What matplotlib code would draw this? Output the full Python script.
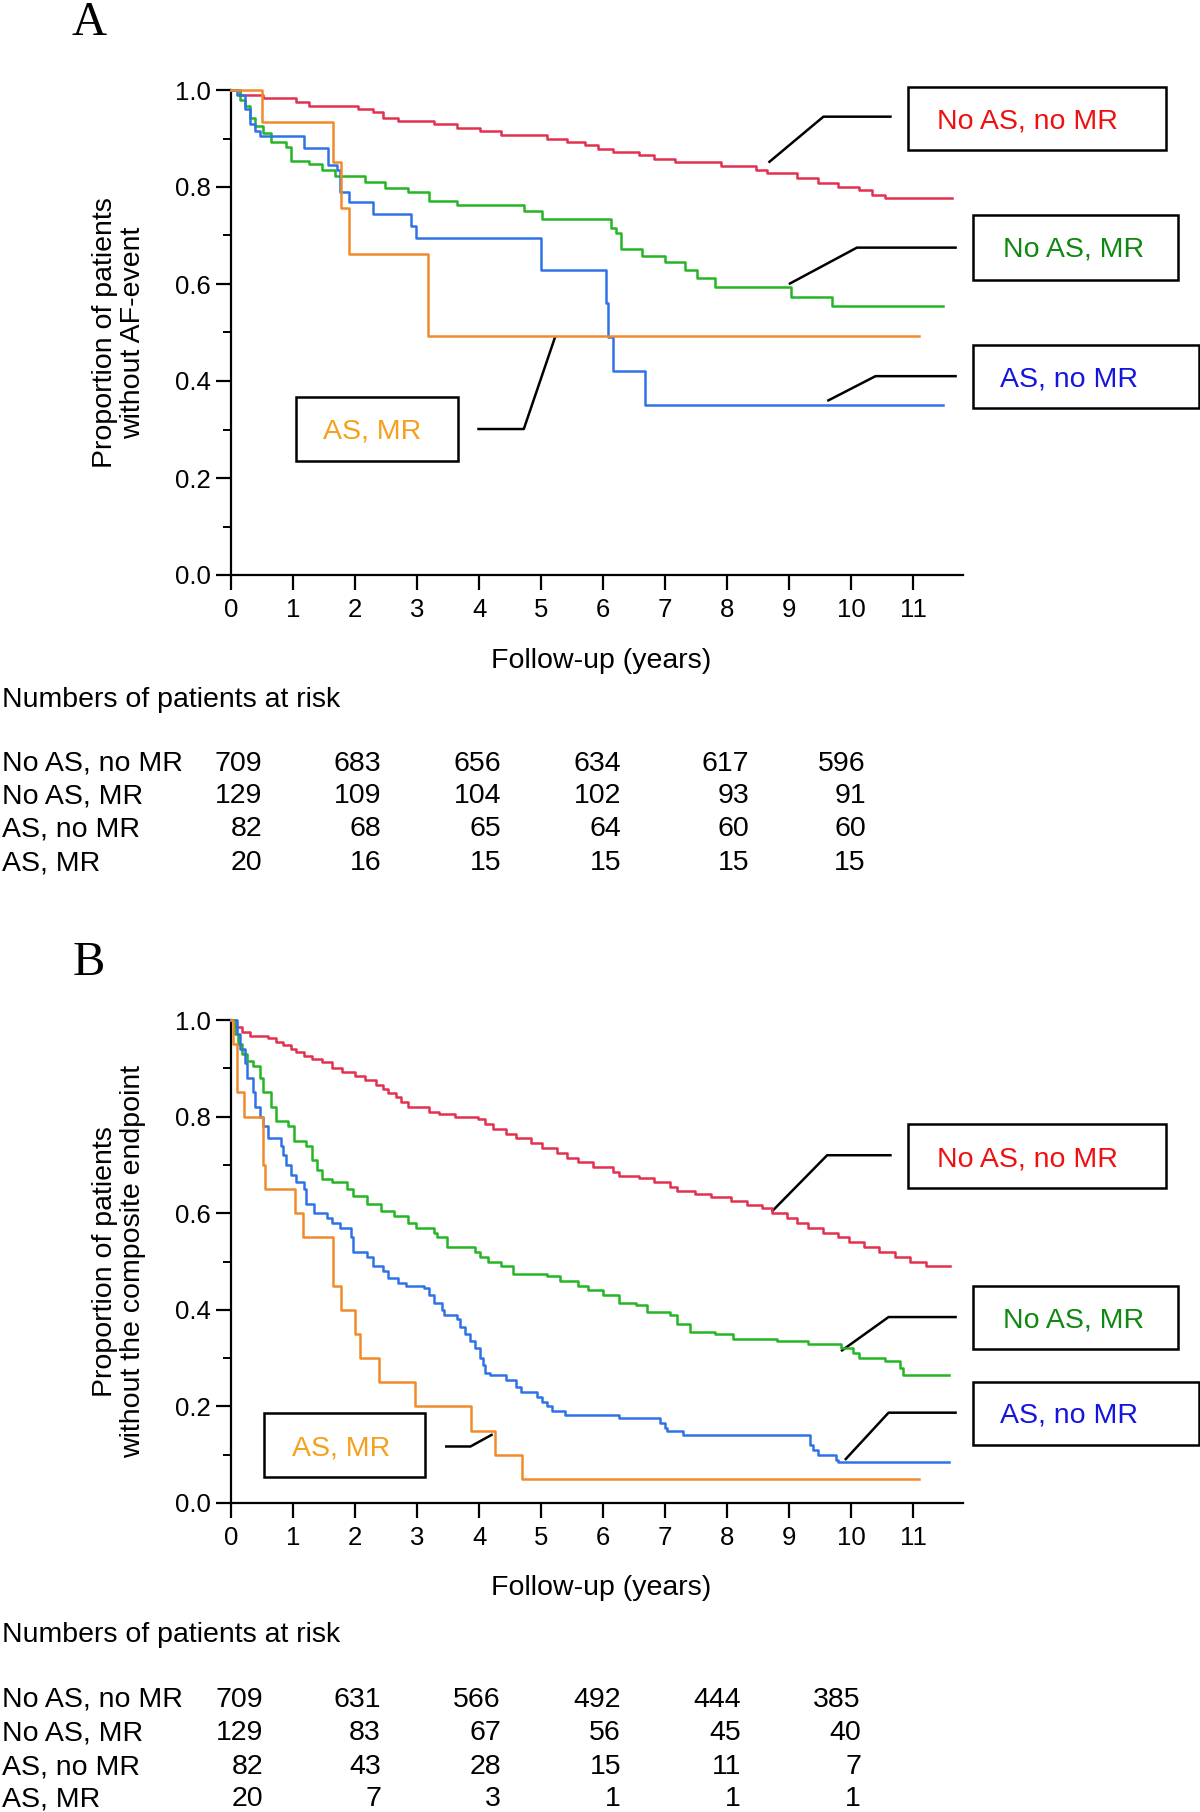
import matplotlib
matplotlib.use("Agg")
import matplotlib.pyplot as plt
from matplotlib.patches import Rectangle
from matplotlib.ticker import MultipleLocator, FormatStrFormatter

plt.rcParams["font.family"] = ["Liberation Sans", "DejaVu Sans"]

GROUPS = ["No AS, no MR", "No AS, MR", "AS, no MR", "AS, MR"]
CURVE_COLORS = ["#e2304f", "#25b525", "#2f72e6", "#f08a2a"]
TEXT_COLORS = ["#ee1111", "#118811", "#1515dd", "#f5a01e"]

# ---- Panel A: freedom from AF event (step times in years, survival after step)
a_nn_t = [0.14, 0.51, 1.05, 1.25, 2.04, 2.29, 2.45, 2.70, 3.28, 3.65, 4.02, 4.35,
          5.09, 5.42, 5.71, 5.92, 6.16, 6.58, 6.82, 7.15, 7.90, 8.47, 8.64, 9.13,
          9.46, 9.79, 10.12, 10.33, 10.54]
a_nn_s = [0.989, 0.983, 0.975, 0.968, 0.961, 0.954, 0.943, 0.936, 0.929, 0.922,
          0.915, 0.907, 0.900, 0.893, 0.886, 0.879, 0.872, 0.865, 0.858, 0.851,
          0.843, 0.836, 0.829, 0.819, 0.808, 0.801, 0.794, 0.783, 0.778]
a_nm_t = [0.14, 0.22, 0.31, 0.39, 0.51, 0.64, 0.88, 0.97, 1.25, 1.46, 1.67, 2.16,
          2.49, 2.86, 3.19, 3.65, 4.72, 5.02, 6.12, 6.20, 6.29, 6.62, 6.99, 7.32,
          7.52, 7.81, 9.03, 9.69]
a_nm_s = [0.979, 0.968, 0.943, 0.925, 0.911, 0.893, 0.883, 0.854, 0.847, 0.836,
          0.822, 0.811, 0.797, 0.790, 0.772, 0.762, 0.751, 0.733, 0.715, 0.705,
          0.673, 0.657, 0.646, 0.629, 0.612, 0.594, 0.573, 0.555]
a_an_t = [0.10, 0.22, 0.31, 0.39, 0.47, 1.17, 1.57, 1.71, 1.75, 1.90, 2.29, 2.90,
          2.99, 4.99, 6.04, 6.08, 6.16, 6.67]
a_an_s = [0.990, 0.960, 0.930, 0.915, 0.905, 0.880, 0.845, 0.835, 0.790, 0.770,
          0.745, 0.720, 0.695, 0.628, 0.560, 0.490, 0.420, 0.350]
a_am_t = [0.50, 1.64, 1.77, 1.90, 3.17]
a_am_s = [0.934, 0.852, 0.757, 0.661, 0.493]
a_end = [11.62, 11.47, 11.47, 11.09]

risk_a = [
    [709, 683, 656, 634, 617, 596],
    [129, 109, 104, 102, 93, 91],
    [82, 68, 65, 64, 60, 60],
    [20, 16, 15, 15, 15, 15],
]

# ---- Panel B: freedom from composite endpoint
b_nn_t = [0.06, 0.18, 0.31, 0.59, 0.72, 0.84, 0.97, 1.05, 1.17, 1.30, 1.46, 1.63,
          1.79, 2.00, 2.16, 2.33, 2.45, 2.53, 2.66, 2.74, 2.86, 3.19, 3.36, 3.61,
          3.98, 4.10, 4.22, 4.43, 4.60, 4.84, 5.01, 5.26, 5.42, 5.59, 5.83, 6.16,
          6.25, 6.58, 6.82, 7.07, 7.19, 7.48, 7.73, 8.06, 8.31, 8.56, 8.72, 8.97,
          9.13, 9.30, 9.55, 9.79, 9.96, 10.21, 10.45, 10.70, 10.95, 11.20]
b_nn_s = [0.985, 0.975, 0.967, 0.962, 0.955, 0.948, 0.940, 0.933, 0.926, 0.920,
          0.913, 0.900, 0.893, 0.884, 0.875, 0.865, 0.858, 0.848, 0.840, 0.830,
          0.820, 0.810, 0.806, 0.800, 0.795, 0.785, 0.775, 0.765, 0.755, 0.745,
          0.735, 0.725, 0.715, 0.705, 0.695, 0.685, 0.678, 0.672, 0.665, 0.655,
          0.645, 0.640, 0.633, 0.625, 0.618, 0.610, 0.600, 0.590, 0.580, 0.570,
          0.560, 0.550, 0.540, 0.530, 0.520, 0.510, 0.500, 0.490]
b_nm_t = [0.06, 0.12, 0.18, 0.26, 0.35, 0.47, 0.51, 0.64, 0.72, 0.92, 1.01, 1.21,
          1.30, 1.38, 1.46, 1.63, 1.87, 1.96, 2.20, 2.41, 2.62, 2.86, 2.99, 3.28,
          3.32, 3.48, 3.94, 4.02, 4.14, 4.35, 4.55, 5.09, 5.30, 5.59, 5.75, 6.00,
          6.25, 6.53, 6.70, 7.07, 7.19, 7.40, 7.81, 8.10, 8.80, 9.30, 9.83, 10.02,
          10.12, 10.54, 10.78, 10.83]
b_nm_s = [0.970, 0.950, 0.930, 0.915, 0.905, 0.880, 0.850, 0.820, 0.790, 0.780,
          0.750, 0.740, 0.710, 0.690, 0.670, 0.665, 0.650, 0.635, 0.620, 0.605,
          0.595, 0.580, 0.570, 0.560, 0.550, 0.530, 0.520, 0.510, 0.500, 0.490,
          0.475, 0.470, 0.460, 0.450, 0.440, 0.430, 0.415, 0.410, 0.395, 0.390,
          0.370, 0.355, 0.350, 0.340, 0.335, 0.330, 0.320, 0.310, 0.300, 0.295,
          0.280, 0.265]
b_an_t = [0.10, 0.14, 0.22, 0.26, 0.35, 0.39, 0.47, 0.51, 0.59, 0.80, 0.84, 0.88,
          0.97, 1.05, 1.17, 1.21, 1.34, 1.54, 1.63, 1.75, 1.93, 1.97, 2.20, 2.29,
          2.45, 2.53, 2.70, 2.82, 3.11, 3.19, 3.28, 3.40, 3.44, 3.65, 3.69, 3.77,
          3.85, 3.94, 4.02, 4.06, 4.10, 4.18, 4.43, 4.60, 4.68, 4.93, 5.01, 5.09,
          5.17, 5.38, 6.25, 6.91, 6.99, 7.03, 7.28, 9.34, 9.38, 9.46, 9.75, 9.79]
b_an_s = [0.970, 0.940, 0.910, 0.880, 0.850, 0.820, 0.800, 0.780, 0.755, 0.740,
          0.720, 0.700, 0.680, 0.665, 0.650, 0.620, 0.600, 0.590, 0.580, 0.570,
          0.550, 0.520, 0.510, 0.490, 0.480, 0.465, 0.455, 0.450, 0.445, 0.430,
          0.415, 0.400, 0.390, 0.380, 0.365, 0.350, 0.335, 0.320, 0.300, 0.285,
          0.270, 0.265, 0.255, 0.240, 0.230, 0.220, 0.210, 0.200, 0.190, 0.183,
          0.175, 0.165, 0.155, 0.150, 0.140, 0.120, 0.110, 0.100, 0.090, 0.085]
b_am_t = [0.04, 0.10, 0.21, 0.51, 0.55, 1.03, 1.16, 1.64, 1.77, 2.00, 2.08, 2.38,
          2.97, 3.87, 4.25, 4.69]
b_am_s = [0.95, 0.85, 0.80, 0.70, 0.65, 0.60, 0.55, 0.45, 0.40, 0.35, 0.30, 0.25,
          0.20, 0.15, 0.10, 0.05]
b_end = [11.59, 11.57, 11.57, 11.09]

risk_b = [
    [709, 631, 566, 492, 444, 385],
    [129, 83, 67, 56, 45, 40],
    [82, 43, 28, 15, 11, 7],
    [20, 7, 3, 1, 1, 1],
]

W, H = 1200, 1812


def fx(px):
    return px / W


def fy(py):
    return 1 - py / H


def draw_panel(ax, curves, ends, ylabel, boxes, leaders, texts):
    for (t, s), end, col in zip(curves, ends, CURVE_COLORS):
        tt = [0.0] + t + [end]
        ss = [1.0] + s + [s[-1]]
        ax.step(tt, ss, where="post", color=col, lw=1.8, clip_on=False, zorder=3)

    ax.set_xlim(0, 11.8)
    ax.set_ylim(0, 1.0)
    for side in ["top", "right"]:
        ax.spines[side].set_visible(False)
    for side in ["left", "bottom"]:
        ax.spines[side].set_linewidth(1.6)
    ax.xaxis.set_major_locator(MultipleLocator(1))
    ax.yaxis.set_major_locator(MultipleLocator(0.2))
    ax.yaxis.set_minor_locator(MultipleLocator(0.1))
    ax.yaxis.set_major_formatter(FormatStrFormatter("%.1f"))
    ax.tick_params(axis="both", which="major", length=10.5, width=1.6,
                   labelsize=18.5, direction="out")
    ax.tick_params(axis="x", pad=6)
    ax.tick_params(axis="y", pad=4)
    ax.tick_params(axis="y", which="minor", length=5.5, width=1.4)
    ax.set_xlabel("Follow-up (years)", fontsize=20.5, va="center")
    ax.xaxis.set_label_coords(0.506, -0.177)
    ax.set_ylabel(ylabel, fontsize=20.5, va="center", linespacing=1.15)
    ax.yaxis.set_label_coords(-0.153, 0.5)

    # annotation boxes with leader lines
    for (x0, x1, y0, y1), (lx, ly), (tx, ty), col, name in zip(
            boxes, leaders, texts, TEXT_COLORS, GROUPS):
        ax.add_patch(Rectangle((x0, y0), x1 - x0, y1 - y0, fill=False,
                               lw=1.8, ec="black", clip_on=False))
        ax.plot(lx, ly, color="black", lw=1.8, clip_on=False)
        ax.text(tx, ty, name, color=col, fontsize=20.5, ha="center",
                va="center_baseline")


def draw_risk(fig, header_y, row_ys, cols, risk):
    fig.text(fx(2), fy(header_y), "Numbers of patients at risk", fontsize=20.5,
             ha="left", va="center_baseline")
    for name, row, y in zip(GROUPS, risk, row_ys):
        fig.text(fx(2), fy(y), name, fontsize=20.5, ha="left",
                 va="center_baseline")
        for val, x in zip(row, cols):
            fig.text(fx(x), fy(y), str(val), fontsize=20.5, ha="right",
                     va="center_baseline")


fig = plt.figure(figsize=(W / 100, H / 100), dpi=100)

ax_a = fig.add_axes([fx(231), fy(575), fx(732), 485 / H])
ax_b = fig.add_axes([fx(231), fy(1503), fx(732), 483 / H])

draw_panel(
    ax_a,
    [(a_nn_t, a_nn_s), (a_nm_t, a_nm_s), (a_an_t, a_an_s), (a_am_t, a_am_s)],
    a_end,
    "Proportion of patients\nwithout AF-event",
    boxes=[(10.91, 15.07, 0.876, 1.007), (11.96, 15.26, 0.609, 0.742),
           (11.96, 15.60, 0.344, 0.475), (1.04, 3.66, 0.236, 0.368)],
    leaders=[([8.68, 9.55, 10.63], [0.852, 0.945, 0.945]),
             ([9.01, 10.09, 11.68], [0.601, 0.675, 0.675]),
             ([9.63, 10.39, 11.68], [0.360, 0.410, 0.410]),
             ([3.99, 4.72, 5.22], [0.301, 0.301, 0.489])],
    texts=[(12.84, 0.942), (13.58, 0.678), (13.51, 0.410), (2.28, 0.303)],
)

draw_panel(
    ax_b,
    [(b_nn_t, b_nn_s), (b_nm_t, b_nm_s), (b_an_t, b_an_s), (b_am_t, b_am_s)],
    b_end,
    "Proportion of patients\nwithout the composite endpoint",
    boxes=[(10.91, 15.07, 0.653, 0.785), (11.96, 15.26, 0.318, 0.450),
           (11.96, 15.60, 0.120, 0.251), (0.54, 3.12, 0.053, 0.187)],
    leaders=[([8.73, 9.61, 10.63], [0.605, 0.720, 0.720]),
             ([9.85, 10.60, 11.68], [0.316, 0.385, 0.385]),
             ([9.91, 10.60, 11.68], [0.091, 0.187, 0.187]),
             ([3.47, 3.86, 4.20], [0.117, 0.117, 0.141])],
    texts=[(12.84, 0.718), (13.58, 0.385), (13.51, 0.187), (1.77, 0.120)],
)

fig.text(fx(89), fy(23), "A", fontsize=35, family=["Liberation Serif", "DejaVu Serif"],
         ha="center", va="center")
fig.text(fx(89), fy(963), "B", fontsize=35, family=["Liberation Serif", "DejaVu Serif"],
         ha="center", va="center")

draw_risk(fig, 697, [760.7, 793.0, 826.5, 860.0], [262, 381, 501, 621, 749, 866], risk_a)
draw_risk(fig, 1632, [1697.0, 1730.5, 1764.0, 1796.0], [263, 381, 501, 621, 741, 861], risk_b)

fig.savefig("out.png", dpi=100)
